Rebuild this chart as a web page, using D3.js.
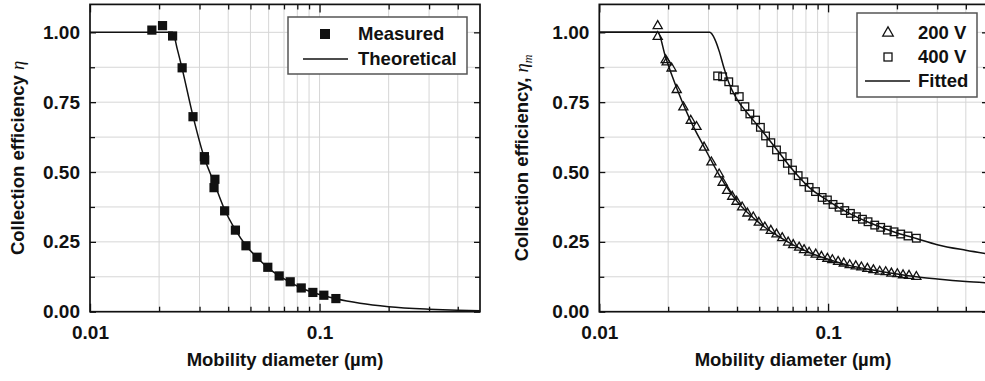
<!DOCTYPE html>
<html>
<head>
<meta charset="utf-8">
<script src="https://cdn.jsdelivr.net/npm/d3@7/dist/d3.min.js"></script>
<style>
  body { margin: 0; background: #fff; }
  text { font-family: "Liberation Sans", Arial, sans-serif; font-weight: bold; fill: #111; }
</style>
</head>
<body>
<svg id="fig" width="985" height="381"></svg>
<script>
// left panel: measured points + theoretical curve
const diamMeas = [0.0186, 0.0207, 0.0229, 0.0252, 0.0281, 0.0315, 0.0316, 0.0347, 0.0350, 0.0386,
  0.0430, 0.0478, 0.0534, 0.0595, 0.0667, 0.0745, 0.0832, 0.0935, 0.1044, 0.1178];
const effMeas = [1.008, 1.024, 0.987, 0.873, 0.698, 0.555, 0.543, 0.444, 0.474, 0.361,
  0.292, 0.236, 0.195, 0.159, 0.128, 0.107, 0.085, 0.069, 0.059, 0.047];
const diamTheo = [0.01, 0.0229, 0.0240, 0.0252, 0.0281, 0.0315, 0.0348, 0.0386, 0.043, 0.0478, 0.0534,
  0.0595, 0.0667, 0.0745, 0.0832, 0.0935, 0.1044, 0.1178, 0.15, 0.2, 0.3, 0.4, 0.5];
const effTheo = [1.0, 1.0, 0.94, 0.87, 0.70, 0.55, 0.46, 0.365, 0.293, 0.237, 0.194,
  0.158, 0.128, 0.105, 0.085, 0.069, 0.057, 0.046, 0.030, 0.018, 0.009, 0.005, 0.003];

// right panel: 200 V and 400 V points + fitted curves
const diam200 = [0.0180, 0.0180, 0.0195, 0.0197, 0.0207, 0.0218, 0.0233, 0.0251, 0.0266, 0.0287,
  0.0309, 0.0334, 0.0346, 0.0362, 0.0381, 0.0398, 0.0421, 0.0444, 0.0471, 0.0498,
  0.0529, 0.0562, 0.0595, 0.0630, 0.0669, 0.0704, 0.0747, 0.0785, 0.0826, 0.0883, 0.0935,
  0.0993, 0.1044, 0.1106, 0.1171, 0.1243, 0.1321, 0.1398, 0.1485, 0.1578, 0.1681,
  0.1786, 0.1891, 0.2008, 0.2126, 0.2258, 0.2431];
const eff200 = [1.023, 0.984, 0.901, 0.893, 0.871, 0.794, 0.732, 0.684, 0.662, 0.588,
  0.535, 0.492, 0.462, 0.433, 0.412, 0.394, 0.374, 0.352, 0.338, 0.319,
  0.302, 0.290, 0.277, 0.264, 0.248, 0.239, 0.230, 0.221, 0.212, 0.205, 0.197,
  0.190, 0.185, 0.179, 0.173, 0.167, 0.163, 0.159, 0.154, 0.149, 0.144,
  0.142, 0.137, 0.135, 0.131, 0.129, 0.125];
const diam400 = [0.0329, 0.0346, 0.0368, 0.0389, 0.0409, 0.0433, 0.0455, 0.0482, 0.0506, 0.0533,
  0.0562, 0.0595, 0.0630, 0.0664, 0.0699, 0.0740, 0.0783, 0.0826, 0.0881, 0.0942,
  0.0993, 0.1051, 0.1117, 0.1183, 0.1252, 0.1330, 0.1413, 0.1495, 0.1599, 0.1698,
  0.1816, 0.1942, 0.2077, 0.2235, 0.2431];
const eff400 = [0.844, 0.841, 0.823, 0.794, 0.770, 0.734, 0.708, 0.686, 0.660, 0.629,
  0.605, 0.579, 0.555, 0.531, 0.507, 0.487, 0.465, 0.445, 0.430, 0.409,
  0.400, 0.384, 0.374, 0.362, 0.352, 0.340, 0.331, 0.322, 0.310, 0.302,
  0.292, 0.286, 0.278, 0.271, 0.263];
const diamFit200 = [0.01, 0.0180, 0.0195, 0.0218, 0.025, 0.0287, 0.0334, 0.04, 0.05, 0.06, 0.07,
  0.0826, 0.1, 0.125, 0.15, 0.2, 0.243, 0.3, 0.4, 0.5];
const effFit200 = [1.0, 1.0, 0.91, 0.80, 0.685, 0.59, 0.49, 0.395, 0.318, 0.272, 0.24,
  0.212, 0.188, 0.165, 0.152, 0.135, 0.125, 0.117, 0.108, 0.103];
const diamFit400 = [0.01, 0.0304, 0.032, 0.0335, 0.035, 0.037, 0.04, 0.045, 0.05, 0.06, 0.07,
  0.0826, 0.1, 0.125, 0.15, 0.2, 0.243, 0.3, 0.4, 0.5];
const effFit400 = [1.0, 1.0, 0.975, 0.93, 0.875, 0.815, 0.76, 0.705, 0.66, 0.578, 0.508,
  0.445, 0.397, 0.35, 0.32, 0.282, 0.262, 0.24, 0.22, 0.207];

// axes
const xMajor = [0.01, 0.1];
const xTickLabels = ["0.01", "0.1"];
const xMinor = [0.02, 0.03, 0.04, 0.05, 0.06, 0.07, 0.08, 0.09, 0.2, 0.3, 0.4];
const yMajor = [0, 0.25, 0.5, 0.75, 1.0];
const yTickLabels = ["0.00", "0.25", "0.50", "0.75", "1.00"];
const yMinor = [0.125, 0.375, 0.625, 0.875];

const svg = d3.select("#fig");
const plotTop = 4.4, plotBottom = 311.7;

function zip(xs, ys) { return xs.map((d, i) => [d, ys[i]]); }

function drawPanel(left, right) {
  const x = d3.scaleLog().domain([0.01, 0.5]).range([left, right]);
  const y = d3.scaleLinear().domain([0, 1.1]).range([plotBottom, plotTop]);
  const g = svg.append("g");

  // grid
  g.append("g").selectAll("line").data(xMinor.concat([0.1])).join("line")
    .attr("x1", d => x(d)).attr("x2", d => x(d)).attr("y1", plotTop).attr("y2", plotBottom)
    .attr("stroke", "#d6d6d6").attr("stroke-width", 1);
  g.append("g").selectAll("line").data(yMinor.concat(yMajor.slice(1))).join("line")
    .attr("y1", d => y(d)).attr("y2", d => y(d)).attr("x1", left).attr("x2", right)
    .attr("stroke", "#d6d6d6").attr("stroke-width", 1);

  // ticks, all pointing inwards
  const axes = [
    [d3.axisBottom(x).tickValues(xMajor).tickFormat((d, i) => xTickLabels[i]).tickSize(-8).tickPadding(14), `translate(0,${plotBottom})`],
    [d3.axisBottom(x).tickValues(xMinor).tickFormat("").tickSize(-5), `translate(0,${plotBottom})`],
    [d3.axisTop(x).tickValues(xMajor).tickFormat("").tickSize(-8), `translate(0,${plotTop})`],
    [d3.axisTop(x).tickValues(xMinor).tickFormat("").tickSize(-5), `translate(0,${plotTop})`],
    [d3.axisLeft(y).tickValues(yMajor).tickFormat((d, i) => yTickLabels[i]).tickSize(-6).tickPadding(10), `translate(${left},0)`],
    [d3.axisLeft(y).tickValues(yMinor).tickFormat("").tickSize(-5), `translate(${left},0)`],
    [d3.axisRight(y).tickValues(yMajor).tickFormat("").tickSize(-6), `translate(${right},0)`],
    [d3.axisRight(y).tickValues(yMinor).tickFormat("").tickSize(-5), `translate(${right},0)`]
  ];
  axes.forEach(([ax, tr]) => {
    const a = g.append("g").attr("transform", tr).call(ax);
    a.select(".domain").remove();
    a.selectAll("line").attr("stroke", "#111").attr("stroke-width", 1.3);
    a.selectAll("text").style("font-size", "19px").attr("fill", "#111");
  });

  g.append("rect").attr("x", left).attr("y", plotTop)
    .attr("width", right - left).attr("height", plotBottom - plotTop)
    .attr("fill", "none").attr("stroke", "#111").attr("stroke-width", 1.7);

  return { g, x, y };
}

function curve(p, xs, ys) {
  const line = d3.line().x(d => p.x(d[0])).y(d => p.y(d[1])).curve(d3.curveMonotoneX);
  p.g.append("path").datum(zip(xs, ys)).attr("d", line)
    .attr("fill", "none").attr("stroke", "#111").attr("stroke-width", 1.5);
}

function yTitle(cx, cy, sub) {
  const t = svg.append("text").attr("transform", `translate(${cx},${cy}) rotate(-90)`)
    .attr("text-anchor", "middle").style("font-size", "18.5px");
  t.append("tspan").text(sub ? "Collection efficiency, " : "Collection efficiency ");
  t.append("tspan").text("η").style("font-family", "'Liberation Serif', serif")
    .style("font-style", "italic").style("font-weight", "normal");
  if (sub) t.append("tspan").text("m").attr("dy", 4).style("font-size", "12px")
    .style("font-family", "'Liberation Serif', serif").style("font-style", "italic").style("font-weight", "normal");
}

function xTitle(cx) {
  svg.append("text").attr("x", cx).attr("y", 366).attr("text-anchor", "middle")
    .style("font-size", "18.5px").text("Mobility diameter (µm)");
}

// ---- left panel
const L = drawPanel(90, 480);
curve(L, diamTheo, effTheo);
L.g.append("g").selectAll("rect").data(zip(diamMeas, effMeas)).join("rect")
  .attr("x", d => L.x(d[0]) - 4.6).attr("y", d => L.y(d[1]) - 4.6)
  .attr("width", 9.2).attr("height", 9.2).attr("fill", "#111");
yTitle(24, 158, false);
xTitle(285);

// legend left
const legL = svg.append("g");
legL.append("rect").attr("x", 288).attr("y", 17).attr("width", 179).attr("height", 57)
  .attr("fill", "#fff").attr("stroke", "#555").attr("stroke-width", 1.5);
legL.append("rect").attr("x", 320).attr("y", 29).attr("width", 10).attr("height", 10).attr("fill", "#111");
legL.append("line").attr("x1", 303).attr("x2", 348).attr("y1", 59).attr("y2", 59)
  .attr("stroke", "#111").attr("stroke-width", 1.5);
legL.append("text").attr("x", 358).attr("y", 40).style("font-size", "18.5px").text("Measured");
legL.append("text").attr("x", 358).attr("y", 65).style("font-size", "18.5px").text("Theoretical");

// ---- right panel
const R = drawPanel(599.3, 988);
curve(R, diamFit200, effFit200);
curve(R, diamFit400, effFit400);
const tri = d3.symbol().type(d3.symbolTriangle).size(36);
R.g.append("g").selectAll("path").data(zip(diam200, eff200)).join("path")
  .attr("d", tri).attr("transform", d => `translate(${R.x(d[0])},${R.y(d[1])})`)
  .attr("fill", "none").attr("stroke", "#111").attr("stroke-width", 1.3);
R.g.append("g").selectAll("rect").data(zip(diam400, eff400)).join("rect")
  .attr("x", d => R.x(d[0]) - 3.8).attr("y", d => R.y(d[1]) - 3.8)
  .attr("width", 7.6).attr("height", 7.6)
  .attr("fill", "none").attr("stroke", "#111").attr("stroke-width", 1.3);
yTitle(528, 158, true);
xTitle(793);

// legend right
const legR = svg.append("g");
legR.append("rect").attr("x", 857).attr("y", 13).attr("width", 120).attr("height", 84)
  .attr("fill", "#fff").attr("stroke", "#555").attr("stroke-width", 1.5);
legR.append("path").attr("d", d3.symbol().type(d3.symbolTriangle).size(48))
  .attr("transform", "translate(888,33)").attr("fill", "none").attr("stroke", "#111").attr("stroke-width", 1.3);
legR.append("rect").attr("x", 884).attr("y", 53).attr("width", 8).attr("height", 8)
  .attr("fill", "none").attr("stroke", "#111").attr("stroke-width", 1.3);
legR.append("line").attr("x1", 865).attr("x2", 910).attr("y1", 81).attr("y2", 81)
  .attr("stroke", "#111").attr("stroke-width", 1.5);
legR.append("text").attr("x", 918).attr("y", 39).style("font-size", "18.5px").text("200 V");
legR.append("text").attr("x", 918).attr("y", 63).style("font-size", "18.5px").text("400 V");
legR.append("text").attr("x", 918).attr("y", 87).style("font-size", "18.5px").text("Fitted");
</script>
</body>
</html>
